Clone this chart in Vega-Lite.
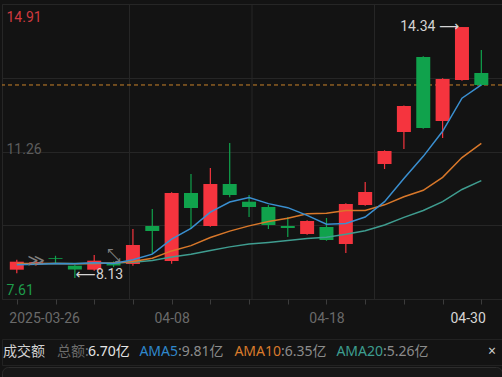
{
  "$schema": "https://vega.github.io/schema/vega-lite/v6.json",
  "background": "#131313",
  "padding": {"left": 1, "top": 3, "right": 1, "bottom": 0},
  "spacing": 12,
  "config": {
    "view": {"stroke": "#262626"},
    "axis": {"labelFont": "Roboto", "labelFontSize": 14}
  },
  "datasets": {
    "k": [
      {"i":0,"d":"2025-03-26","o":8.335,"h":8.58,"l":8.25,"c":8.533,"ma5":8.46,"ma10":8.49,"ma20":8.48},
      {"i":1,"d":"2025-03-27","o":8.47,"h":8.55,"l":8.44,"c":8.52,"ma5":8.47,"ma10":8.49,"ma20":8.48},
      {"i":2,"d":"2025-03-28","o":8.62,"h":8.68,"l":8.48,"c":8.60,"ma5":8.49,"ma10":8.49,"ma20":8.49},
      {"i":3,"d":"2025-03-31","o":8.434,"h":8.45,"l":8.13,"c":8.34,"ma5":8.48,"ma10":8.48,"ma20":8.49},
      {"i":4,"d":"2025-04-01","o":8.335,"h":8.70,"l":8.31,"c":8.558,"ma5":8.51,"ma10":8.49,"ma20":8.49},
      {"i":5,"d":"2025-04-02","o":8.50,"h":8.54,"l":8.40,"c":8.44,"ma5":8.49,"ma10":8.50,"ma20":8.50},
      {"i":6,"d":"2025-04-03","o":8.476,"h":9.342,"l":8.43,"c":8.946,"ma5":8.58,"ma10":8.54,"ma20":8.52},
      {"i":7,"d":"2025-04-07","o":9.416,"h":9.837,"l":8.723,"c":9.292,"ma5":8.72,"ma10":8.62,"ma20":8.56},
      {"i":8,"d":"2025-04-08","o":8.55,"h":10.25,"l":8.48,"c":10.233,"ma5":9.09,"ma10":8.80,"ma20":8.65},
      {"i":9,"d":"2025-04-09","o":10.233,"h":10.703,"l":9.342,"c":9.862,"ma5":9.36,"ma10":8.93,"ma20":8.72},
      {"i":10,"d":"2025-04-10","o":9.416,"h":10.852,"l":9.40,"c":10.456,"ma5":9.76,"ma10":9.13,"ma20":8.81},
      {"i":11,"d":"2025-04-11","o":10.456,"h":11.47,"l":10.13,"c":10.183,"ma5":10.01,"ma10":9.29,"ma20":8.90},
      {"i":12,"d":"2025-04-14","o":10.018,"h":10.183,"l":9.64,"c":9.886,"ma5":10.12,"ma10":9.42,"ma20":8.97},
      {"i":13,"d":"2025-04-15","o":9.886,"h":9.935,"l":9.342,"c":9.441,"ma5":9.97,"ma10":9.53,"ma20":9.01},
      {"i":14,"d":"2025-04-16","o":9.416,"h":9.64,"l":9.144,"c":9.367,"ma5":9.87,"ma10":9.61,"ma20":9.06},
      {"i":15,"d":"2025-04-17","o":9.218,"h":9.56,"l":9.20,"c":9.54,"ma5":9.68,"ma10":9.72,"ma20":9.11},
      {"i":16,"d":"2025-04-18","o":9.392,"h":9.614,"l":9.05,"c":9.07,"ma5":9.46,"ma10":9.73,"ma20":9.14},
      {"i":17,"d":"2025-04-21","o":8.971,"h":9.98,"l":8.748,"c":9.961,"ma5":9.48,"ma10":9.80,"ma20":9.21},
      {"i":18,"d":"2025-04-22","o":9.936,"h":10.505,"l":9.92,"c":10.258,"ma5":9.64,"ma10":9.80,"ma20":9.30},
      {"i":19,"d":"2025-04-23","o":10.951,"h":11.29,"l":10.827,"c":11.272,"ma5":10.02,"ma10":9.94,"ma20":9.44},
      {"i":20,"d":"2025-04-24","o":11.742,"h":12.40,"l":11.322,"c":12.386,"ma5":10.59,"ma10":10.14,"ma20":9.63},
      {"i":21,"d":"2025-04-25","o":13.598,"h":13.62,"l":11.82,"c":11.841,"ma5":11.14,"ma10":10.30,"ma20":9.80},
      {"i":22,"d":"2025-04-28","o":12.015,"h":13.07,"l":11.594,"c":13.054,"ma5":11.76,"ma10":10.62,"ma20":10.02},
      {"i":23,"d":"2025-04-29","o":13.029,"h":14.34,"l":13.01,"c":14.34,"ma5":12.58,"ma10":11.11,"ma20":10.32},
      {"i":24,"d":"2025-04-30","o":13.202,"h":13.772,"l":12.89,"c":12.906,"ma5":12.91,"ma10":11.46,"ma20":10.54}
    ],
    "vgrid": [{"g":5.823},{"g":12.152},{"g":18.481}],
    "last": [{"p":12.906}],
    "ann": [
      {"kind":"high","i":23,"p":14.34,"label":"14.34 ⟶"},
      {"kind":"low","i":3,"p":8.13,"label":"⟵8.13"}
    ],
    "icons": [
      {"i":1,"p":8.55,"t":"≫"},
      {"i":5,"p":8.67,"t":"⤡"}
    ],
    "legend": [
      {"n":1,"t":"成交额"},
      {"n":2,"t":"总额:"},
      {"n":3,"t":"6.70亿"},
      {"n":4,"t":"AMA5"},
      {"n":5,"t":":9.81亿"},
      {"n":6,"t":"AMA10"},
      {"n":7,"t":":6.35亿"},
      {"n":8,"t":"AMA20"},
      {"n":9,"t":":5.26亿"},
      {"n":10,"t":"×"}
    ]
  },
  "vconcat": [
    {
      "width": 500,
      "height": 295,
      "layer": [
        {
          "data": {"name": "vgrid"},
          "mark": {"type": "rule", "color": "#262626", "strokeWidth": 1},
          "encoding": {
            "x": {
              "field": "g", "type": "quantitative",
              "scale": {"domain": [-0.506, 24.81], "nice": false, "zero": false},
              "axis": {
                "title": null,
                "values": [0,1,2,3,4,5,6,7,8,9,10,11,12,13,14,15,16,17,18,19,20,21,22,23,24],
                "domain": false, "grid": false, "ticks": true, "tickSize": 5, "tickColor": "#3c3c3c",
                "labelExpr": "datum.value == 0 ? '2025-03-26' : datum.value == 8 ? '04-08' : datum.value == 16 ? '04-18' : datum.value == 24 ? '04-30' : ''",
                "labelOverlap": false, "labelBound": false, "labelFlush": false, "labelPadding": 7,
                "labelAlign": {"condition": [{"test": "datum.value == 0", "value": "left"}, {"test": "datum.value == 24", "value": "right"}], "value": "center"},
                "labelOffset": {"condition": [{"test": "datum.value == 0", "value": -8}, {"test": "datum.value == 24", "value": 4}], "value": 0},
                "labelColor": {"condition": {"test": "datum.value == 24", "value": "#d6d6d6"}, "value": "#6a6a6a"}
              }
            }
          }
        },
        {
          "data": {"name": "last"},
          "mark": {"type": "rule", "color": "#c9822a", "strokeDash": [4, 3], "strokeWidth": 1},
          "encoding": {
            "y": {
              "field": "p", "type": "quantitative",
              "scale": {"domain": [7.61, 14.91], "nice": false, "zero": false},
              "axis": {
                "title": null,
                "values": [7.61, 9.435, 11.26, 13.085, 14.91],
                "domain": false, "ticks": false, "grid": true, "gridColor": "#262626", "gridWidth": 1,
                "labelExpr": "(datum.value == 9.435 || datum.value == 13.085) ? '' : format(datum.value, '.2f')",
                "labelAlign": "left", "labelPadding": -4, "labelBaseline": "alphabetic",
                "labelOverlap": false, "labelBound": false, "labelFlush": false,
                "labelOffset": {"condition": [{"test": "datum.value == 14.91", "value": 17}, {"test": "datum.value == 7.61", "value": -5}], "value": 2},
                "labelColor": {"condition": [{"test": "datum.value == 14.91", "value": "#d03a3f"}, {"test": "datum.value == 7.61", "value": "#1e9c4b"}], "value": "#5c5c5c"}
              }
            }
          }
        },
        {
          "data": {"name": "k"},
          "mark": {"type": "rule", "strokeWidth": 1.2},
          "encoding": {
            "x": {"field": "i", "type": "quantitative", "title": null},
            "y": {"field": "l", "type": "quantitative", "title": null},
            "y2": {"field": "h"},
            "color": {"condition": {"test": "datum.c >= datum.o", "value": "#f5343e"}, "value": "#10a24c"}
          }
        },
        {
          "data": {"name": "k"},
          "mark": {"type": "bar", "size": 14, "orient": "vertical"},
          "encoding": {
            "x": {"field": "i", "type": "quantitative", "title": null},
            "y": {"field": "o", "type": "quantitative", "title": null},
            "y2": {"field": "c"},
            "color": {"condition": {"test": "datum.c >= datum.o", "value": "#f5343e"}, "value": "#10a24c"}
          }
        },
        {
          "data": {"name": "k"},
          "mark": {"type": "line", "color": "#3f9d90", "strokeWidth": 1.5},
          "encoding": {
            "x": {"field": "i", "type": "quantitative", "title": null},
            "y": {"field": "ma20", "type": "quantitative", "title": null}
          }
        },
        {
          "data": {"name": "k"},
          "mark": {"type": "line", "color": "#d9782a", "strokeWidth": 1.5},
          "encoding": {
            "x": {"field": "i", "type": "quantitative", "title": null},
            "y": {"field": "ma10", "type": "quantitative", "title": null}
          }
        },
        {
          "data": {"name": "k"},
          "mark": {"type": "line", "color": "#3a8fd0", "strokeWidth": 1.5},
          "encoding": {
            "x": {"field": "i", "type": "quantitative", "title": null},
            "y": {"field": "ma5", "type": "quantitative", "title": null}
          }
        },
        {
          "data": {"name": "ann"},
          "transform": [{"filter": "datum.kind == 'high'"}],
          "mark": {"type": "text", "align": "right", "baseline": "middle", "dx": -3, "color": "#d4d4d4", "font": "Roboto, DejaVu Sans", "fontSize": 14},
          "encoding": {
            "x": {"field": "i", "type": "quantitative", "title": null},
            "y": {"field": "p", "type": "quantitative", "title": null},
            "text": {"field": "label"}
          }
        },
        {
          "data": {"name": "ann"},
          "transform": [{"filter": "datum.kind == 'low'"}],
          "mark": {"type": "text", "align": "left", "baseline": "middle", "dx": 1, "dy": -3, "color": "#d4d4d4", "font": "Roboto, DejaVu Sans", "fontSize": 14},
          "encoding": {
            "x": {"field": "i", "type": "quantitative", "title": null},
            "y": {"field": "p", "type": "quantitative", "title": null},
            "text": {"field": "label"}
          }
        },
        {
          "data": {"name": "icons"},
          "mark": {"type": "text", "align": "center", "baseline": "middle", "color": "#808080", "font": "DejaVu Sans", "fontSize": 17},
          "encoding": {
            "x": {"field": "i", "type": "quantitative", "title": null},
            "y": {"field": "p", "type": "quantitative", "title": null},
            "text": {"field": "t"}
          }
        }
      ]
    },
    {
      "spacing": 0,
      "vconcat": [
        {
          "width": 500,
          "height": 26,
          "view": {"stroke": "#222222"},
          "data": {"name": "legend"},
          "encoding": {
            "x": {
              "field": "n", "type": "quantitative",
              "scale": {"domain": [1,2,3,4,5,6,7,8,9,10], "range": [1,55,86,176,176,279,279,381,381,486]},
              "axis": null
            },
            "text": {"field": "t"},
            "color": {
              "field": "n", "type": "nominal",
              "scale": {"domain": [1,2,3,4,5,6,7,8,9,10], "range": ["#d2d2d2","#6c6c6c","#e6e6e6","#2f87cc","#8c8c8c","#d97a2b","#8c8c8c","#3d9d8f","#8c8c8c","#cfcfcf"]},
              "legend": null
            }
          },
          "layer": [
            {
              "transform": [{"filter": "datum.n != 4 && datum.n != 6 && datum.n != 8"}],
              "mark": {"type": "text", "align": "left", "baseline": "middle", "font": "Noto Sans, Noto Sans CJK SC", "fontSize": 14}
            },
            {
              "transform": [{"filter": "datum.n == 4 || datum.n == 6 || datum.n == 8"}],
              "mark": {"type": "text", "align": "right", "baseline": "middle", "font": "Noto Sans, Noto Sans CJK SC", "fontSize": 14}
            }
          ]
        },
        {
          "width": 500,
          "height": 24,
          "view": {"fill": "#171717", "stroke": "#2c2c2c", "cornerRadius": 6},
          "data": {"name": "legend"},
          "mark": {"type": "text", "opacity": 0},
          "encoding": {"text": {"field": "t"}}
        }
      ]
    }
  ]
}
